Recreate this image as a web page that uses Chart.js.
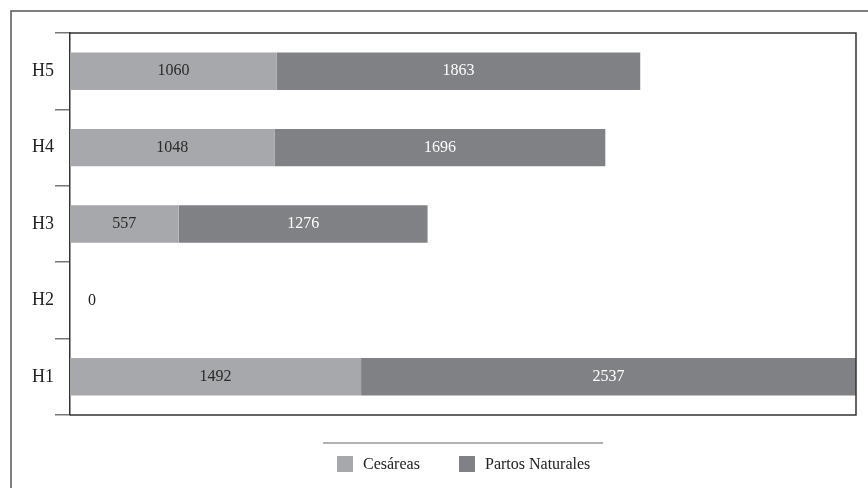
<!DOCTYPE html>
<html lang="es">
<head>
<meta charset="UTF-8" />
<title>Cesáreas y partos naturales</title>
<script src="https://cdn.jsdelivr.net/npm/chart.js@4.4.0/dist/chart.umd.min.js"></script>
<style>
  html, body { margin: 0; padding: 0; background: #fff; }
  #wrap { width: 868px; height: 488px; }
</style>
</head>
<body>
<div id="wrap"><canvas id="chart" width="868" height="488"></canvas></div>
<script>
  const hospitales = ['H5', 'H4', 'H3', 'H2', 'H1'];
  const cesareas = [1060, 1048, 557, 0, 1492];
  const partosNaturales = [1863, 1696, 1276, 0, 2537];
  const serieNombres = ['Cesáreas', 'Partos Naturales'];

  const colCes = '#a7a8ab';
  const colPar = '#808184';
  const serif = '"Liberation Serif", "Times New Roman", serif';

  // frame, box, value labels and legend drawn on top
  const decor = {
    id: 'decor',
    afterDatasetsDraw(chart) {
      const ctx = chart.ctx;
      const a = chart.chartArea;
      ctx.save();
      // outer frame
      ctx.strokeStyle = '#555';
      ctx.lineWidth = 1.5;
      ctx.beginPath();
      ctx.moveTo(11, 490);
      ctx.lineTo(11, 11);
      ctx.lineTo(870, 11);
      ctx.stroke();
      // plot box
      ctx.strokeStyle = '#333';
      ctx.lineWidth = 1.5;
      ctx.beginPath();
      ctx.moveTo(a.left, a.top);
      ctx.lineTo(a.right, a.top);
      ctx.lineTo(a.right, a.bottom);
      ctx.lineTo(a.left, a.bottom);
      ctx.stroke();

      // value labels
      ctx.font = '16px ' + serif;
      ctx.textBaseline = 'middle';
      ctx.textAlign = 'center';
      chart.data.datasets.forEach((ds, i) => {
        const meta = chart.getDatasetMeta(i);
        meta.data.forEach((bar, j) => {
          const v = ds.data[j];
          if (v === 0) {
            if (i === 0) {
              ctx.fillStyle = '#222';
              ctx.fillText('0', a.left + 22, bar.y);
            }
            return;
          }
          ctx.fillStyle = i === 0 ? '#2a2a2a' : '#ffffff';
          ctx.fillText(String(v), (bar.base + bar.x) / 2, bar.y);
        });
      });

      // legend
      ctx.strokeStyle = '#666';
      ctx.lineWidth = 1;
      ctx.beginPath();
      ctx.moveTo(323, 443);
      ctx.lineTo(603, 443);
      ctx.stroke();
      ctx.font = '16px ' + serif;
      ctx.textAlign = 'left';
      const items = [[337, colCes, 363], [459, colPar, 485]];
      items.forEach((it, k) => {
        ctx.fillStyle = it[1];
        ctx.fillRect(it[0], 456, 16, 16);
        ctx.fillStyle = '#222';
        ctx.fillText(serieNombres[k], it[2], 465);
      });
      ctx.restore();
    }
  };

  new Chart(document.getElementById('chart'), {
    type: 'bar',
    data: {
      labels: hospitales,
      datasets: [
        { label: serieNombres[0], data: cesareas, backgroundColor: colCes, barPercentage: 0.98, categoryPercentage: 0.5 },
        { label: serieNombres[1], data: partosNaturales, backgroundColor: colPar, barPercentage: 0.98, categoryPercentage: 0.5 }
      ]
    },
    options: {
      indexAxis: 'y',
      responsive: false,
      animation: false,
      layout: { padding: { left: 0, top: 33, right: 12, bottom: 73 } },
      plugins: { legend: { display: false }, tooltip: { enabled: false } },
      scales: {
        x: { stacked: true, display: false, min: 0, max: 4029 },
        y: {
          stacked: true,
          afterFit: s => { s.width = 70; },
          grid: { offset: true, drawOnChartArea: false, tickLength: 15, color: '#777', lineWidth: 1.5 },
          border: { color: '#333', width: 1.5 },
          ticks: { padding: 1, color: '#222', font: { family: serif, size: 18 } }
        }
      }
    },
    plugins: [decor]
  });
</script>
</body>
</html>
